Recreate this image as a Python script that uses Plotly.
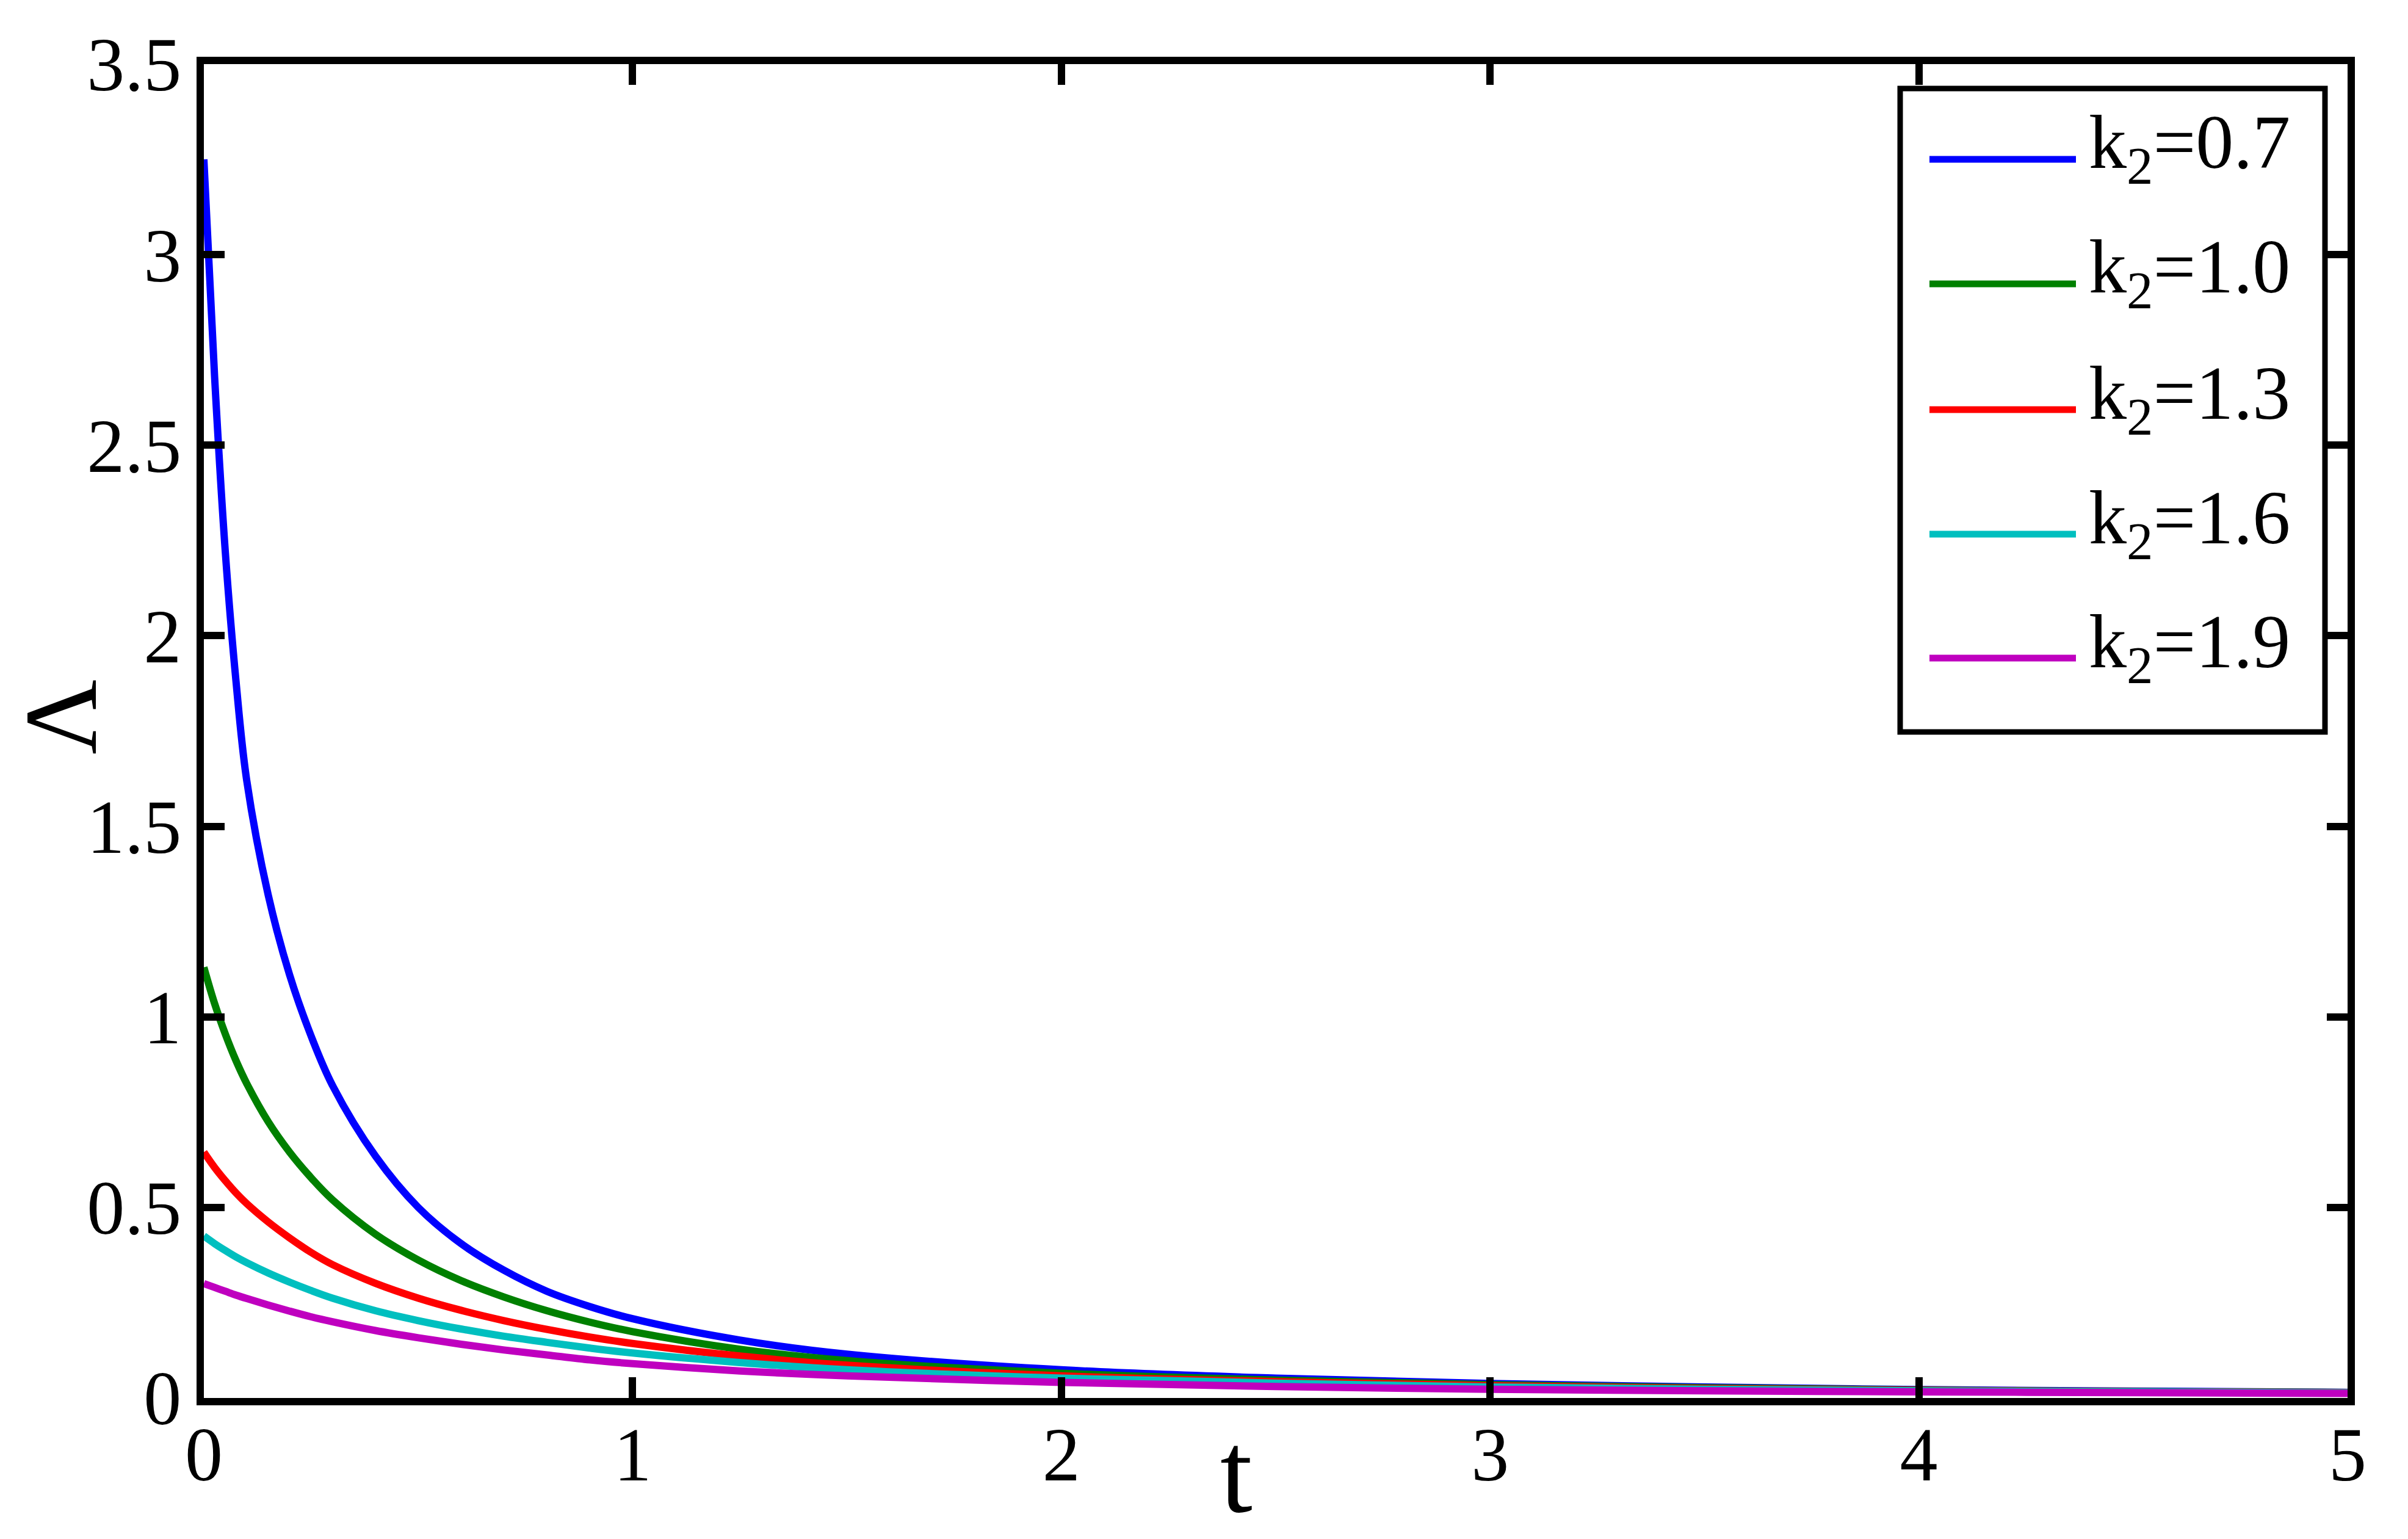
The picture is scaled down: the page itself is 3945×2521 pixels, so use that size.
import plotly.graph_objects as go

# ── Data ─────────────────────────────────────────────────────────────────────

T = [0, 0.025, 0.05, 0.075, 0.1, 0.15, 0.2, 0.25, 0.3, 0.4, 0.5, 0.6, 0.7,
     0.8, 0.9, 1.0, 1.25, 1.5, 2.0, 2.5, 3.0, 3.5, 4.0, 4.5, 5.0]

LAMBDA_K07 = [3.25, 2.68, 2.22, 1.88, 1.62, 1.32, 1.11, 0.95, 0.82, 0.635,
              0.50, 0.405, 0.335, 0.28, 0.24, 0.208, 0.152, 0.115, 0.074,
              0.052, 0.038, 0.029, 0.022, 0.018, 0.015]
LAMBDA_K10 = [1.13, 1.035, 0.955, 0.885, 0.825, 0.725, 0.645, 0.578, 0.52,
              0.43, 0.362, 0.308, 0.265, 0.229, 0.199, 0.174, 0.128, 0.098,
              0.065, 0.047, 0.035, 0.027, 0.021, 0.017, 0.0145]
LAMBDA_K13 = [0.645, 0.605, 0.57, 0.538, 0.51, 0.462, 0.42, 0.382, 0.35,
              0.301, 0.262, 0.23, 0.203, 0.18, 0.16, 0.143, 0.11, 0.086,
              0.058, 0.043, 0.032, 0.025, 0.020, 0.0165, 0.014]
LAMBDA_K16 = [0.425, 0.405, 0.387, 0.37, 0.355, 0.328, 0.304, 0.282, 0.262,
              0.229, 0.203, 0.181, 0.162, 0.146, 0.131, 0.118, 0.093, 0.074,
              0.052, 0.039, 0.029, 0.023, 0.019, 0.016, 0.0135]
LAMBDA_K19 = [0.30, 0.29, 0.28, 0.27, 0.261, 0.244, 0.228, 0.213, 0.20,
              0.177, 0.158, 0.141, 0.126, 0.113, 0.10, 0.09, 0.071, 0.058,
              0.041, 0.030, 0.023, 0.019, 0.016, 0.014, 0.012]

LABELS = ["k<sub>2</sub>=0.7", "k<sub>2</sub>=1.0", "k<sub>2</sub>=1.3",
          "k<sub>2</sub>=1.6", "k<sub>2</sub>=1.9"]
SERIES = [LAMBDA_K07, LAMBDA_K10, LAMBDA_K13, LAMBDA_K16, LAMBDA_K19]
COLORS = ["#0000FF", "#008000", "#FF0000", "#00BFBF", "#BF00BF"]

X_TICKS = [0, 1, 2, 3, 4, 5]
Y_TICKS = [0, 0.5, 1, 1.5, 2, 2.5, 3, 3.5]

FONT = "Liberation Serif"
W, H = 3945, 2521
M_L, M_R, M_T, M_B = 334, 99, 105, 231

fig = go.Figure()
for ys, name, color in zip(SERIES, LABELS, COLORS):
    fig.add_trace(go.Scatter(
        x=T, y=ys, name=name, mode="lines",
        line=dict(color=color, width=12, shape="spline", smoothing=1.0),
        showlegend=False,
    ))

# ── Legend box drawn by hand (MATLAB-style long line samples) ────────────────

plot_w = W - M_L - M_R
plot_h = H - M_T - M_B


def px_x(px):
    return (px - M_L) / plot_w


def px_y(py):
    return (H - M_B - py) / plot_h


fig.add_shape(type="rect", xref="paper", yref="paper",
              x0=px_x(3113), x1=px_x(3809), y0=px_y(1199), y1=px_y(145),
              line=dict(color="black", width=9), fillcolor="white", layer="above")

row_y = [261, 465, 671, 875, 1078]
for ry, name, color in zip(row_y, LABELS, COLORS):
    fig.add_shape(type="line", xref="paper", yref="paper",
                  x0=px_x(3161), x1=px_x(3401), y0=px_y(ry), y1=px_y(ry),
                  line=dict(color=color, width=11), layer="above")
    fig.add_annotation(xref="paper", yref="paper", x=px_x(3420), y=px_y(ry - 18),
                       xanchor="left", yanchor="middle", showarrow=False,
                       text=name, font=dict(family=FONT, size=124, color="black"))

# axis titles
fig.add_annotation(xref="paper", yref="paper", x=px_x(2025), y=px_y(2412),
                   xanchor="center", yanchor="middle", showarrow=False,
                   text="t", font=dict(family=FONT, size=190, color="black"))
fig.add_annotation(xref="paper", yref="paper", x=px_x(100), y=px_y(1175),
                   xanchor="center", yanchor="middle", showarrow=False,
                   textangle=-90,
                   text="Λ", font=dict(family=FONT, size=170, color="black"))

axis_style = dict(
    showline=True, linewidth=12, linecolor="black", mirror="ticks",
    ticks="inside", ticklen=34, tickwidth=12, tickcolor="black",
    showgrid=False, zeroline=False, automargin=False,
    tickfont=dict(family=FONT, size=124, color="black"),
)

fig.update_xaxes(range=[0, 5], tickvals=X_TICKS, ticklabelstandoff=-26,
                 **axis_style)
fig.update_yaxes(range=[0, 3.5], tickvals=Y_TICKS, **axis_style)

fig.update_layout(
    width=W, height=H,
    margin=dict(l=M_L, r=M_R, t=M_T, b=M_B),
    paper_bgcolor="white", plot_bgcolor="white",
    font=dict(family=FONT, color="black"),
)

# drop the browser's default 8px body margin so the figure sits at (0, 0)
fig.write_html("out.html", config={"displayModeBar": False},
               post_script="document.body.style.margin = '0';")
